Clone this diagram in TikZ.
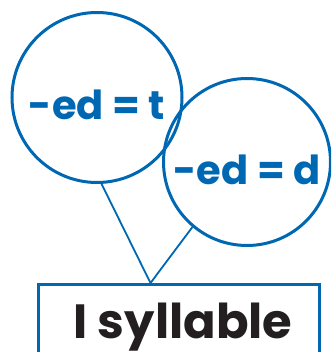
\documentclass[tikz,border=0pt]{standalone}
\usepackage{fontspec}
\setmainfont{Poppins}
\usetikzlibrary{positioning}
\definecolor{edblue}{RGB}{0,104,178}
\definecolor{inkblack}{RGB}{35,31,32}

\begin{document}
\begin{tikzpicture}[x=1pt,y=-1pt]
\tikzset{bubble/.style={circle,draw=edblue,line width=3pt,inner sep=0pt,text=edblue,font=\fontsize{40}{40}\selectfont\bfseries,text height=44pt,text depth=0pt},
  wire/.style={draw=edblue,line width=1.8pt},
  sylbox/.style={rectangle,draw=edblue,line width=3pt,minimum width=281pt,minimum height=74pt,inner sep=0pt,text=inkblack,font=\fontsize{48}{48}\selectfont\bfseries,text height=34pt,text depth=0pt}}
\useasboundingbox (0,0) rectangle (331,352);
\clip (0,0) rectangle (331,352);
\node[bubble,minimum size=170pt] (et) at (97,97.5) {-ed = t};
\node[bubble,minimum size=167pt] (ed) at (247,162) {-ed = d};
\node[sylbox,anchor=north] (syl) at (178.5,283) {\hspace{9pt}I syllable};
\draw[wire] (et.-87) -- ([xshift=114pt]syl.north west);
\draw[wire] (ed.-130) -- ([xshift=114pt]syl.north west);
\end{tikzpicture}
\end{document}
